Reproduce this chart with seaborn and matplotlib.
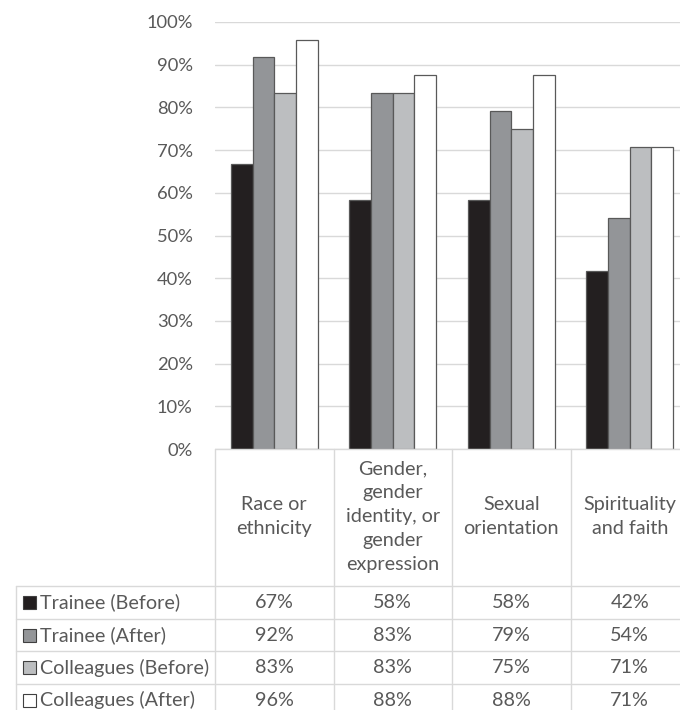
import matplotlib
matplotlib.use("Agg")
import matplotlib.pyplot as plt
from matplotlib.patches import Rectangle
import seaborn as sns
import pandas as pd

categories = ["Race or\nethnicity",
              "Gender,\ngender\nidentity, or\ngender\nexpression",
              "Sexual\norientation",
              "Spirituality\nand faith"]
series = ["Trainee (Before)", "Trainee (After)", "Colleagues (Before)", "Colleagues (After)"]
trainee_before = [66.7, 58.3, 58.3, 41.7]
trainee_after = [91.7, 83.3, 79.2, 54.2]
colleagues_before = [83.3, 83.3, 75.0, 70.8]
colleagues_after = [95.8, 87.5, 87.5, 70.8]
colors = ["#231f20", "#939598", "#bcbec0", "#ffffff"]
yticks = [0, 10, 20, 30, 40, 50, 60, 70, 80, 90, 100]

values = [trainee_before, trainee_after, colleagues_before, colleagues_after]
rows = []
for s, vals in zip(series, values):
    for c, v in zip(categories, vals):
        rows.append({"category": c, "series": s, "value": v / 100})
df = pd.DataFrame(rows)

sns.set_theme(style="white")
FONT = ["Lato", "DejaVu Sans"]
plt.rcParams["font.family"] = FONT
TXT = "#595959"
GRID = "#d9d9d9"
FS = 14.2
FS_TICK = 13.2

W, H = 680, 710
fig = plt.figure(figsize=(W / 100, H / 100), dpi=100)
ax_left, ax_right, ax_top, ax_bottom = 215, 689, 22, 449
ax = fig.add_axes([ax_left / W, (H - ax_bottom) / H, (ax_right - ax_left) / W, (ax_bottom - ax_top) / H])

sns.barplot(data=df, x="category", y="value", hue="series", order=categories,
            hue_order=series, palette=colors, saturation=1, width=0.73,
            edgecolor="#595959", linewidth=0.9, legend=False, ax=ax, zorder=3)
ax.set_xlim(-0.5, len(categories) - 0.5)
ax.set_ylim(0, 1)
ax.set_yticks([t / 100 for t in yticks])
ax.set_yticklabels([f"{t}%" for t in yticks], color=TXT, fontsize=FS_TICK)
ax.set_xticks([])
ax.set_xlabel("")
ax.set_ylabel("")
ax.tick_params(axis="y", length=0, pad=16)
ax.grid(axis="y", color=GRID, linewidth=1, zorder=0)
ax.set_axisbelow(True)
for sp in ax.spines.values():
    sp.set_visible(False)

# table overlay in pixel coordinates
ov = fig.add_axes([0, 0, 1, 1], facecolor="none")
ov.set_xlim(0, W)
ov.set_ylim(H, 0)
ov.axis("off")

def xpix(xd):
    disp = ax.transData.transform((xd, 0))
    return ov.transData.inverted().transform(disp)[0]

bounds = [xpix(i - 0.5) for i in range(len(categories) + 1)]
centers = [xpix(i) for i in range(len(categories))]
header_bottom = 586
row_h = 32.7
leg_left = 16

lw = 1.0
ov.plot([bounds[0], W], [ax_bottom, ax_bottom], color=GRID, lw=lw)
for b in bounds:
    ov.plot([b, b], [ax_bottom, H], color=GRID, lw=lw)
ov.plot([leg_left, leg_left], [header_bottom, H], color=GRID, lw=lw)
for r in range(len(series)):
    y = header_bottom + r * row_h
    ov.plot([leg_left, W], [y, y], color=GRID, lw=lw)

for c, cx in zip(categories, centers):
    ov.text(cx, (ax_bottom + header_bottom) / 2 - 1, c, ha="center", va="center",
            multialignment="center", color=TXT, fontsize=FS, linespacing=1.5)

for r, (s, vals, col) in enumerate(zip(series, values, colors)):
    yc = header_bottom + (r + 0.5) * row_h
    ov.add_patch(Rectangle((23, yc - 6.5), 13, 13, facecolor=col, edgecolor="#404040", lw=0.8))
    ov.text(40, yc, s, ha="left", va="center", color=TXT, fontsize=FS)
    for v, cx in zip(vals, centers):
        ov.text(cx, yc, f"{round(v)}%", ha="center", va="center", color=TXT, fontsize=FS)

fig.savefig("out.png", dpi=100)
